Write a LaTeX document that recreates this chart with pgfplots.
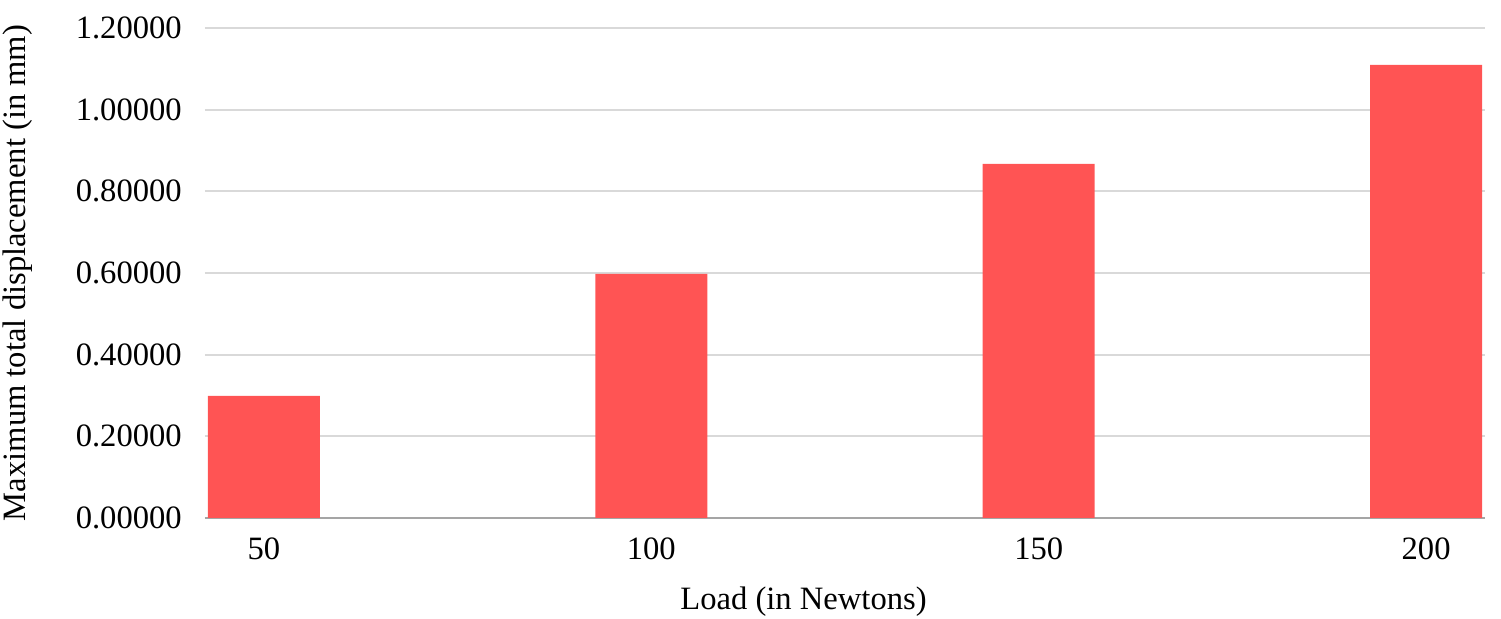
\documentclass[border=0pt]{standalone}
\usepackage{pgfplots}
\pgfplotsset{compat=1.18}
\usepackage{fontspec}
\setmainfont{Liberation Serif}
\definecolor{barred}{RGB}{255,84,84}
\definecolor{gridgray}{RGB}{217,217,217}
\definecolor{axisgray}{RGB}{165,165,165}
\begin{document}
\fontsize{16.3}{19.5}\selectfont
\begin{tikzpicture}
  \path[use as bounding box] (-102.5pt,-50.5pt) rectangle (648pt,259pt);
  \begin{axis}[
    at={(0,0)}, anchor=south west,
    scale only axis,
    width=640pt, height=245pt,
    xmin=-0.152, xmax=3.152,
    ymin=0, ymax=1.2,
    ytick={0,0.2,...,1.2},
    xtick={0,1,2,3},
    xticklabels={50,100,150,200},
    ybar, bar width=56pt,
    axis x line*=bottom,
    axis y line*=left,
    y axis line style={draw=none},
    x axis line style={axisgray, line width=1pt},
    major tick length=0pt,
    ymajorgrids,
    grid style={gridgray, line width=1pt},
    /pgf/number format/assume math mode=true,
    yticklabel style={/pgf/number format/fixed, /pgf/number format/fixed zerofill,
      /pgf/number format/precision=5, xshift=-6pt},
    ticklabel style={font=\fontsize{16.3}{19.5}\selectfont},
    xticklabel style={yshift=-4.5pt},
    label style={font=\fontsize{16.3}{19.5}\selectfont},
    xlabel={Load (in Newtons)},
    ylabel={Maximum total displacement (in mm)},
    xlabel style={at={(rel axis cs:0.4676,0)}, anchor=north, yshift=-28.6pt},
    ylabel style={at={(rel axis cs:0,0.5)}, anchor=south, yshift=80.5pt},
  ]
    \addplot[fill=barred, draw=none] coordinates {
      (0, 0.2988)
      (1, 0.5976)
      (2, 0.8670)
      (3, 1.1095)
    };
  \end{axis}
\end{tikzpicture}
\end{document}
